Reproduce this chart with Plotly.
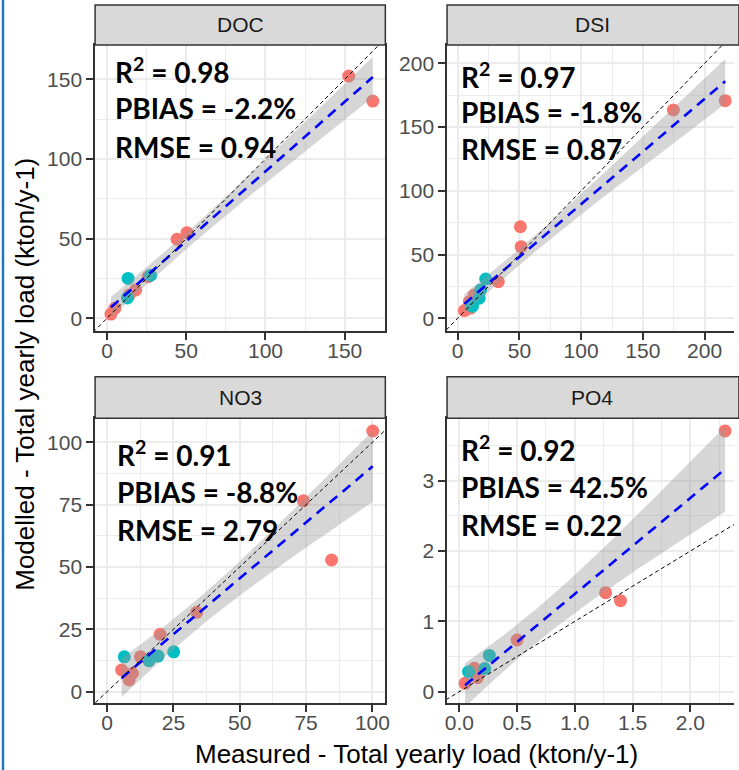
import numpy as np
import plotly.graph_objects as go

# ---------------- data ----------------
panels = ["DOC", "DSI", "NO3", "PO4"]

doc_cal_x = [2.5, 5.0, 14.0, 18.1, 26.0, 44.2, 50.4, 152.5, 167.7]
doc_cal_y = [2.6, 6.3, 14.6, 17.8, 26.1, 49.6, 53.7, 152.0, 136.3]
doc_val_x = [13.3, 12.9, 27.5]
doc_val_y = [25.0, 12.7, 27.0]

dsi_cal_x = [5.4, 10.5, 9.4, 13.4, 32.9, 50.8, 51.4, 174.7, 216.7]
dsi_cal_y = [6.0, 8.0, 13.0, 18.3, 28.7, 71.8, 56.2, 163.4, 170.7]
dsi_val_x = [22.7, 18.7, 17.4, 12.0]
dsi_val_y = [30.8, 22.2, 15.7, 9.5]

no3_cal_x = [5.5, 8.3, 9.6, 12.6, 20.0, 33.8, 74.0, 84.6, 100.1]
no3_cal_y = [8.7, 4.7, 7.4, 14.0, 23.0, 31.8, 76.5, 52.8, 104.5]
no3_val_x = [6.5, 15.8, 19.2, 25.1]
no3_val_y = [14.0, 12.4, 14.3, 16.0]

po4_cal_x = [0.05, 0.13, 0.157, 0.50, 1.266, 1.395, 2.30]
po4_cal_y = [0.119, 0.333, 0.20, 0.735, 1.408, 1.294, 3.707]
po4_val_x = [0.08, 0.22, 0.26]
po4_val_y = [0.284, 0.33, 0.515]

r2_text = ["0.98", "0.97", "0.91", "0.92"]
pbias_text = ["-2.2%", "-1.8%", "-8.8%", "42.5%"]
rmse_text = ["0.94", "0.87", "2.79", "0.22"]

x_ticks = [[0, 50, 100, 150], [0, 50, 100, 150, 200], [0, 25, 50, 75, 100],
           [0.0, 0.5, 1.0, 1.5, 2.0]]
y_ticks = [[0, 50, 100, 150], [0, 50, 100, 150, 200], [0, 25, 50, 75, 100],
           [0, 1, 2, 3]]

x_title = "Measured - Total yearly load (kton/y-1)"
y_title = "Modelled - Total yearly load (kton/y-1)"

cal_data = [(doc_cal_x, doc_cal_y), (dsi_cal_x, dsi_cal_y),
            (no3_cal_x, no3_cal_y), (po4_cal_x, po4_cal_y)]
val_data = [(doc_val_x, doc_val_y), (dsi_val_x, dsi_val_y),
            (no3_val_x, no3_val_y), (po4_val_x, po4_val_y)]

# ---------------- layout constants ----------------
W, H = 739, 770
COL_CAL = "#F8766D"
COL_VAL = "#00BFC4"
TICK_FONT = dict(family="Liberation Sans, Arial, sans-serif", size=21, color="#4D4D4D")

x_ranges = [[-7.5, 175.6], [-8.6, 223.8], [-4.5, 104.85], [-0.106, 2.377]]
y_ranges = [[-8.0, 171.5], [-10.0, 214.4], [-4.65, 109.6], [-0.165, 3.887]]
minor_x = [25, 25, 12.5, 0.25]
minor_y = [25, 25, 12.5, 0.5]

# pixel boxes (left, right, top, bottom)
boxes = [(94, 387, 45, 331), (449.3, 739, 45, 331),
         (94, 387, 418.3, 703.3), (449.3, 739, 418.3, 703.3)]
strips = [(5, 45), (5, 45), (376.7, 418.3), (376.7, 418.3)]
stat_pos = [(0.0775, [0.910, 0.779, 0.644]), (0.057, [0.895, 0.767, 0.636]),
            (0.083, [0.877, 0.7425, 0.608]), (0.057, [0.895, 0.758, 0.626])]


def t975(df):
    z = 1.959963984540054
    g1 = (z**3 + z) / 4
    g2 = (5 * z**5 + 16 * z**3 + 3 * z) / 96
    g3 = (3 * z**7 + 19 * z**5 + 17 * z**3 - 15 * z) / 384
    g4 = (79 * z**9 + 776 * z**7 + 1482 * z**5 - 1920 * z**3 - 945 * z) / 92160
    return z + g1 / df + g2 / df**2 + g3 / df**3 + g4 / df**4


fig = go.Figure()
layout = dict(width=W, height=H, margin=dict(l=0, r=0, t=0, b=0),
              paper_bgcolor="white", plot_bgcolor="white", showlegend=False)
shapes = []
annotations = []

for i, name in enumerate(panels):
    k = "" if i == 0 else str(i + 1)
    xa, ya = "x" + k, "y" + k
    l, r, t, b = boxes[i]
    layout["xaxis" + k] = dict(
        domain=[l / W, r / W], range=x_ranges[i], anchor=ya,
        tickvals=x_ticks[i],
        ticktext=[(f"{v:.1f}" if i == 3 else f"{v:g}") for v in x_ticks[i]],
        showgrid=True, gridcolor="#EBEBEB", gridwidth=2,
        minor=dict(dtick=minor_x[i], tick0=0, showgrid=True, gridcolor="#EBEBEB", gridwidth=1),
        zeroline=False, showline=True, linecolor="#333333", linewidth=1.5, mirror=True,
        ticks="outside", ticklen=7, tickwidth=1.5, tickcolor="#333333",
        ticklabelstandoff=-7,
        tickfont=TICK_FONT, fixedrange=True)
    layout["yaxis" + k] = dict(
        domain=[1 - b / H, 1 - t / H], range=y_ranges[i], anchor=xa,
        tickvals=y_ticks[i],
        showgrid=True, gridcolor="#EBEBEB", gridwidth=2,
        minor=dict(dtick=minor_y[i], tick0=0, showgrid=True, gridcolor="#EBEBEB", gridwidth=1),
        zeroline=False, showline=True, linecolor="#333333", linewidth=1.5,
        mirror=(i in (0, 2)),
        ticks="outside", ticklen=7, tickwidth=1.5, tickcolor="#333333",
        tickfont=TICK_FONT, fixedrange=True)

    cx, cy = cal_data[i]
    vx, vy = val_data[i]
    fig.add_trace(go.Scatter(x=cx, y=cy, mode="markers", xaxis=xa, yaxis=ya,
                             marker=dict(color=COL_CAL, size=13, line=dict(width=0))))
    fig.add_trace(go.Scatter(x=vx, y=vy, mode="markers", xaxis=xa, yaxis=ya,
                             marker=dict(color=COL_VAL, size=13, line=dict(width=0))))

    # linear fit with 95% confidence band (like geom_smooth(method="lm"))
    X = np.array(cx + vx, dtype=float)
    Y = np.array(cy + vy, dtype=float)
    n = len(X)
    slope, intercept = np.polyfit(X, Y, 1)
    resid = Y - (slope * X + intercept)
    s = np.sqrt(np.sum(resid**2) / (n - 2))
    sxx = np.sum((X - X.mean())**2)
    xs = np.linspace(X.min(), X.max(), 80)
    fit = slope * xs + intercept
    se = s * np.sqrt(1.0 / n + (xs - X.mean())**2 / sxx)
    tq = t975(n - 2)
    lo, hi = fit - tq * se, fit + tq * se
    fig.add_trace(go.Scatter(x=np.concatenate([xs, xs[::-1]]),
                             y=np.concatenate([hi, lo[::-1]]),
                             fill="toself", fillcolor="rgba(153,153,153,0.4)",
                             line=dict(width=0), mode="lines", hoverinfo="skip",
                             xaxis=xa, yaxis=ya))
    fig.add_trace(go.Scatter(x=xs, y=fit, mode="lines", xaxis=xa, yaxis=ya,
                             line=dict(color="#0000FF", width=2.6, dash="10px,7px")))
    # 1:1 line
    big = 10 * max(x_ranges[i][1], y_ranges[i][1])
    fig.add_trace(go.Scatter(x=[-big, big], y=[-big, big], mode="lines",
                             xaxis=xa, yaxis=ya,
                             line=dict(color="black", width=1, dash="4px,3px")))

    # strip
    st, sb = strips[i]
    shapes.append(dict(type="rect", xref="paper", yref="paper",
                       x0=l / W, x1=(r + 5) / W if r >= W else r / W,
                       y0=1 - sb / H, y1=1 - st / H,
                       fillcolor="#D9D9D9", line=dict(color="#333333", width=1.5),
                       layer="above"))
    annotations.append(dict(xref="paper", yref="paper", x=(l + 146.5) / W,
                            y=1 - (st + sb) / 2 / H, text=name, showarrow=False,
                            xanchor="center", yanchor="middle",
                            font=dict(family="Liberation Sans, Arial, sans-serif",
                                      size=21, color="#1A1A1A")))
    # statistics text
    sx, sys_ = stat_pos[i]
    lines = [f"<b>R<sup>2</sup> = {r2_text[i]}</b>",
             f"<b>PBIAS = {pbias_text[i]}</b>",
             f"<b>RMSE = {rmse_text[i]}</b>"]
    for txt, yy in zip(lines, sys_):
        annotations.append(dict(xref=xa + " domain", yref=ya + " domain", x=sx - 0.015, y=yy,
                                text=txt, showarrow=False, xanchor="left",
                                yanchor="middle",
                                font=dict(family="Lato, Liberation Sans, sans-serif",
                                          size=28, color="black")))

# axis titles
annotations.append(dict(xref="paper", yref="paper", x=418 / W, y=1 - 754 / H,
                        text=x_title, showarrow=False, xanchor="center", yanchor="middle",
                        font=dict(family="Liberation Sans, Arial, sans-serif", size=26,
                                  color="black")))
annotations.append(dict(xref="paper", yref="paper", x=23 / W, y=1 - 374 / H,
                        text=y_title, showarrow=False, textangle=-90,
                        xanchor="center", yanchor="middle",
                        font=dict(family="Liberation Sans, Arial, sans-serif", size=26,
                                  color="black")))
# blue frame edge on the left
shapes.append(dict(type="line", xref="paper", yref="paper", x0=1 / W, x1=1 / W,
                   y0=0, y1=1, line=dict(color="#1F78B8", width=2.5)))

layout["shapes"] = shapes
layout["annotations"] = annotations
fig.update_layout(**layout)
fig.write_html("out.html", config={"displayModeBar": False},
               post_script="document.body.style.margin='0';"
                           "document.body.style.overflow='hidden';")
